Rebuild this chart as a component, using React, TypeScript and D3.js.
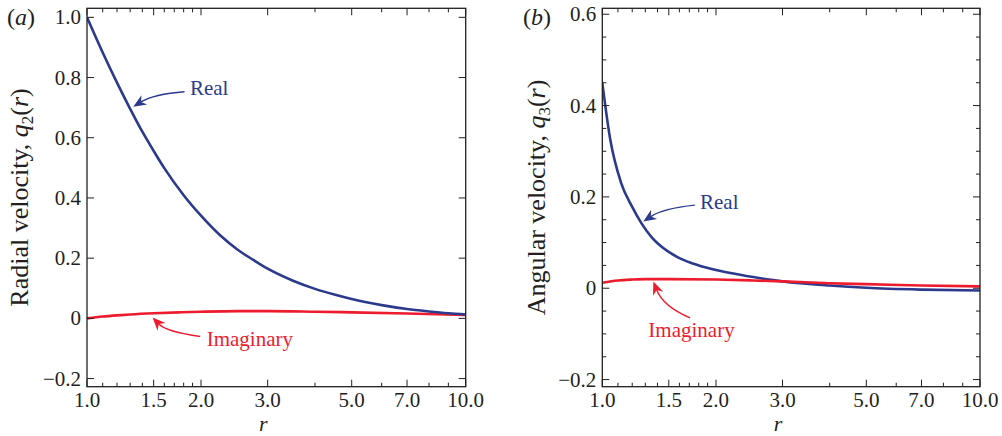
import React, { useEffect, useRef } from 'react';
import * as d3 from 'd3';

// panel (a): radial velocity q2(r)
const radialR = [1.0, 1.1, 1.2, 1.3, 1.4, 1.5, 1.6, 1.8, 2.0, 2.25, 2.5, 2.75, 3.0, 3.5, 4.0, 4.5, 5.0, 6.0, 7.0, 8.0, 9.0, 10.0];
const radialReal = [1.0, 0.883, 0.783, 0.696, 0.62, 0.556, 0.499, 0.409, 0.341, 0.275, 0.228, 0.194, 0.165, 0.125, 0.098, 0.079, 0.064, 0.044, 0.031, 0.023, 0.017, 0.013];
const radialImagR = [1.0, 1.1, 1.2, 1.3, 1.5, 1.75, 2.0, 2.5, 3.0, 4.0, 5.0, 7.0, 10.0];
const radialImag = [0.0, 0.006, 0.010, 0.013, 0.017, 0.020, 0.022, 0.024, 0.024, 0.022, 0.020, 0.016, 0.011];

// panel (b): angular velocity q3(r)
const angularR = [1.0, 1.05, 1.12, 1.2, 1.27, 1.35, 1.45, 1.6, 1.8, 2.0, 2.3, 2.7, 3.0, 4.0, 5.0, 7.0, 10.0];
const angularReal = [0.45, 0.325, 0.232, 0.178, 0.142, 0.112, 0.088, 0.066, 0.05, 0.04, 0.03, 0.02, 0.015, 0.006, 0.001, -0.003, -0.005];
const angularImagR = [1.0, 1.1, 1.2, 1.3, 1.5, 2.0, 2.5, 3.0, 4.0, 5.0, 7.0, 10.0];
const angularImag = [0.012, 0.017, 0.019, 0.020, 0.020, 0.019, 0.017, 0.015, 0.011, 0.009, 0.006, 0.004];

// ticks
const xTicks = [1.0, 1.5, 2.0, 3.0, 5.0, 7.0, 10.0];
const xMinorTicks = [1.1, 1.2, 1.3, 1.4, 1.6, 1.7, 1.8, 1.9, 4, 6, 8, 9];
const radialTicks = [-0.2, 0, 0.2, 0.4, 0.6, 0.8, 1.0];
const angularTicks = [-0.2, 0, 0.2, 0.4, 0.6];
const angularMinorTicks = [-0.15, -0.1, -0.05, 0.05, 0.1, 0.15, 0.25, 0.3, 0.35, 0.45, 0.5, 0.55];

// annotations in data coordinates: [r, value]
const radialNotes = [
  { text: 'Real', color: 'blue', at: [1.87, 0.742], tail: [1.81, 0.753], ctrl: [1.5, 0.745], head: [1.325, 0.703] },
  { text: 'Imaginary', color: 'red', at: [2.07, -0.091], tail: [1.99, -0.06], ctrl: [1.62, -0.045], head: [1.49, 0.003] },
];
const angularNotes = [
  { text: 'Real', color: 'blue', at: [1.814, 0.174], tail: [1.758, 0.182], ctrl: [1.45, 0.175], head: [1.284, 0.146] },
  { text: 'Imaginary', color: 'red', at: [1.324, -0.106], tail: [1.707, -0.065], ctrl: [1.45, -0.04], head: [1.365, 0.0145] },
];

const BLUE = '#2b3a8c';
const RED = '#ec1c2e';
const INK = '#231f20';
const FONT = '"Liberation Serif", "Times New Roman", serif';

function drawPanel(svg, opts) {
  const { left, right, top, bottom, yDomain, yTicks, yMinor, series, notes, title, sub, label, labelX, titleX } = opts;
  const x = d3.scaleLog().domain([1, 10]).range([left, right]);
  const y = d3.scaleLinear().domain(yDomain).range([bottom, top]);
  const g = svg.append('g');

  const clipId = 'clip-' + label;
  g.append('clipPath').attr('id', clipId)
    .append('rect').attr('x', left).attr('y', top).attr('width', right - left).attr('height', bottom - top);

  // curves
  series.forEach((s) => {
    const pts = s.r.map((r, i) => [r, s.v[i]]);
    const line = d3.line()
      .x((d) => x(d[0]))
      .y((d) => y(d[1]))
      .curve(d3.curveMonotoneX);
    g.append('path')
      .attr('clip-path', `url(#${clipId})`)
      .attr('d', line(pts))
      .attr('fill', 'none')
      .attr('stroke', s.color)
      .attr('stroke-width', 2.6)
      .attr('stroke-linejoin', 'round');
  });

  // frame
  g.append('rect')
    .attr('x', left).attr('y', top).attr('width', right - left).attr('height', bottom - top)
    .attr('fill', 'none').attr('stroke', INK).attr('stroke-width', 1.3);

  // ticks on all four sides, pointing in
  const tick = (x1, y1, x2, y2) => g.append('line')
    .attr('x1', x1).attr('y1', y1).attr('x2', x2).attr('y2', y2)
    .attr('stroke', INK).attr('stroke-width', 1);
  xTicks.forEach((t) => {
    tick(x(t), bottom, x(t), bottom - 7);
    tick(x(t), top, x(t), top + 7);
  });
  xMinorTicks.forEach((t) => {
    tick(x(t), bottom, x(t), bottom - 4);
    tick(x(t), top, x(t), top + 4);
  });
  yTicks.forEach((t) => {
    tick(left, y(t), left + 7, y(t));
    tick(right, y(t), right - 7, y(t));
  });
  yMinor.forEach((t) => {
    tick(left, y(t), left + 4, y(t));
    tick(right, y(t), right - 4, y(t));
  });

  // tick labels
  const fmt = d3.format('.1f');
  g.selectAll('.xl').data(xTicks).enter().append('text')
    .attr('x', (d) => x(d)).attr('y', bottom + 20)
    .attr('text-anchor', 'middle')
    .attr('font-family', FONT).attr('font-size', 21).attr('fill', INK)
    .text((d) => fmt(d));
  g.selectAll('.yl').data(yTicks).enter().append('text')
    .attr('x', left - 6).attr('y', (d) => y(d) + 7)
    .attr('text-anchor', 'end')
    .attr('font-family', FONT).attr('font-size', 21).attr('fill', INK)
    .text((d) => (d === 0 ? '0' : fmt(d).replace('-', '\u2212')));

  // axis titles
  g.append('text')
    .attr('x', (left + right) / 2 - 13).attr('y', bottom + 44)
    .attr('text-anchor', 'middle')
    .attr('font-family', FONT).attr('font-size', 22).attr('font-style', 'italic').attr('fill', INK)
    .text('r');
  const yt = g.append('text')
    .attr('transform', `translate(${titleX},${(top + bottom) / 2}) rotate(-90)`)
    .attr('text-anchor', 'middle')
    .attr('font-family', FONT).attr('font-size', 26).attr('fill', INK);
  yt.append('tspan').text(title + ', ');
  yt.append('tspan').attr('font-style', 'italic').text('q');
  yt.append('tspan').attr('font-size', 17).attr('dy', 5).text(sub);
  yt.append('tspan').attr('dy', -5).text('(');
  yt.append('tspan').attr('font-style', 'italic').text('r');
  yt.append('tspan').text(')');

  // panel label
  const pl = g.append('text')
    .attr('x', labelX).attr('y', top + 17)
    .attr('font-family', FONT).attr('font-size', 24).attr('fill', INK);
  pl.append('tspan').text('(');
  pl.append('tspan').attr('font-style', 'italic').text(label);
  pl.append('tspan').text(')');

  // annotations with curved arrows
  notes.forEach((n) => {
    const c = n.color === 'blue' ? BLUE : RED;
    const [tx, ty] = [x(n.tail[0]), y(n.tail[1])];
    const [cx, cy] = [x(n.ctrl[0]), y(n.ctrl[1])];
    const [hx, hy] = [x(n.head[0]), y(n.head[1])];
    const ang = Math.atan2(hy - cy, hx - cx);
    const len = 13;
    const wid = 5.5;
    const bx = hx - len * Math.cos(ang);
    const by = hy - len * Math.sin(ang);
    const nx = hx - len * 0.7 * Math.cos(ang);
    const ny = hy - len * 0.7 * Math.sin(ang);
    g.append('path')
      .attr('d', `M${tx},${ty} Q${cx},${cy} ${nx},${ny}`)
      .attr('fill', 'none').attr('stroke', c).attr('stroke-width', 1.5);
    const p1 = [bx - wid * Math.sin(ang), by + wid * Math.cos(ang)];
    const p2 = [bx + wid * Math.sin(ang), by - wid * Math.cos(ang)];
    g.append('path')
      .attr('d', `M${hx},${hy} L${p1[0]},${p1[1]} L${nx},${ny} L${p2[0]},${p2[1]} Z`)
      .attr('fill', c);
    g.append('text')
      .attr('x', x(n.at[0])).attr('y', y(n.at[1]))
      .attr('font-family', FONT).attr('font-size', 21).attr('fill', c)
      .text(n.text);
  });
}

export default function App() {
  const ref = useRef(null);

  useEffect(() => {
    document.body.style.margin = '0';
    const svg = d3.select(ref.current);
    svg.selectAll('*').remove();

    drawPanel(svg, {
      left: 87, right: 465.7, top: 8.3, bottom: 386.7,
      yDomain: [-0.227, 1.03],
      yTicks: radialTicks, yMinor: [],
      series: [
        { r: radialImagR, v: radialImag, color: RED },
        { r: radialR, v: radialReal, color: BLUE },
      ],
      notes: radialNotes,
      title: 'Radial velocity', sub: '2', label: 'a', labelX: 7, titleX: 28,
    });
    drawPanel(svg, {
      left: 602.3, right: 980, top: 8.3, bottom: 386.7,
      yDomain: [-0.2156, 0.613],
      yTicks: angularTicks, yMinor: angularMinorTicks,
      series: [
        { r: angularR, v: angularReal, color: BLUE },
        { r: angularImagR, v: angularImag, color: RED },
      ],
      notes: angularNotes,
      title: 'Angular velocity', sub: '3', label: 'b', labelX: 523, titleX: 545,
    });
  }, []);

  return <svg ref={ref} width={1002} height={436} style={{ display: 'block', background: '#fff' }} />;
}
